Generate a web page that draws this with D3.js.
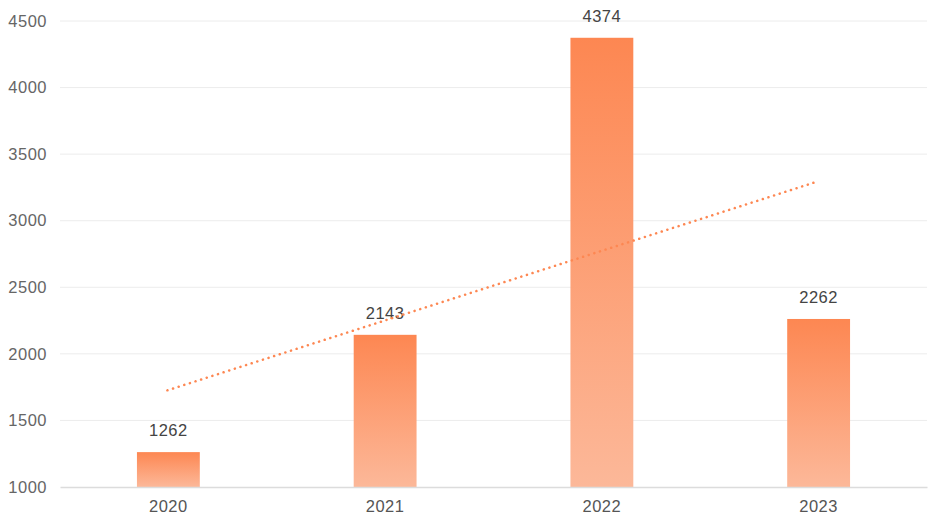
<!DOCTYPE html>
<html><head><meta charset="utf-8">
<script src="https://cdn.jsdelivr.net/npm/d3@7"></script>
<style>
body{margin:0;background:#fff;}
svg{display:block;font-family:"Liberation Sans",Arial,sans-serif;}
</style></head>
<body><svg id="chart" width="943" height="530"></svg>
<script>
const categories = ["2020", "2021", "2022", "2023"];
const values = [1262, 2143, 4374, 2262];
const yTicks = [1000, 1500, 2000, 2500, 3000, 3500, 4000, 4500];
const trendValues = [1726, 3295]; // trend line at first and last category

const svg = d3.select("#chart");
const margin = {left: 60, right: 16, top: 21, bottom: 43};
const W = 943, H = 530;
const FONT = "Liberation Sans, Arial, sans-serif";

const x = d3.scaleBand().domain(categories).range([margin.left, W - margin.right]).paddingInner(0.71).paddingOuter(0.355);
const y = d3.scaleLinear().domain([1000, 4500]).range([H - margin.bottom, margin.top]);

const defs = svg.append("defs");
const grad = defs.append("linearGradient").attr("id", "barGrad").attr("x1", 0).attr("y1", 0).attr("x2", 0).attr("y2", 1);
grad.append("stop").attr("offset", "0%").attr("stop-color", "#fd8752");
grad.append("stop").attr("offset", "100%").attr("stop-color", "#fcb899");

// grid
svg.append("g").selectAll("line").data(yTicks.slice(1)).join("line")
  .attr("x1", margin.left).attr("x2", W - margin.right)
  .attr("y1", d => y(d)).attr("y2", d => y(d))
  .attr("stroke", "#ececec").attr("stroke-width", 1);

// y axis labels
const yAxis = d3.axisLeft(y).tickValues(yTicks).tickFormat(d3.format("d")).tickSize(0).tickPadding(13);
const gy = svg.append("g").attr("transform", `translate(${margin.left},0)`).call(yAxis);
gy.select(".domain").remove();
gy.selectAll("text").attr("fill", "#666").attr("font-size", 16.5).attr("letter-spacing", 0.5).attr("font-family", FONT);

// bars
svg.append("g").selectAll("rect").data(values).join("rect")
  .attr("x", (d, i) => x(categories[i]))
  .attr("width", x.bandwidth())
  .attr("y", d => y(d))
  .attr("height", d => y(1000) - y(d))
  .attr("fill", "url(#barGrad)");

// x axis
const xAxis = d3.axisBottom(x).tickSize(0).tickPadding(13);
const gx = svg.append("g").attr("transform", `translate(0,${y(1000)})`).call(xAxis);
gx.select(".domain").attr("stroke", "#dcdcdc").attr("stroke-width", 1.5);
gx.selectAll("text").attr("fill", "#555").attr("font-size", 16.5).attr("letter-spacing", 0.5).attr("font-family", FONT);

// value labels
svg.append("g").selectAll("text").data(values).join("text")
  .attr("x", (d, i) => x(categories[i]) + x.bandwidth() / 2)
  .attr("y", d => y(d) - 16)
  .attr("text-anchor", "middle")
  .attr("fill", "#444").attr("font-size", 16.5).attr("letter-spacing", 0.5)
  .text(d => d);

// trend line
const c0 = x(categories[0]) + x.bandwidth() / 2;
const c1 = x(categories[categories.length - 1]) + x.bandwidth() / 2;
svg.append("line")
  .attr("x1", c0 - 1).attr("y1", y(trendValues[0]))
  .attr("x2", c1 - 1).attr("y2", y(trendValues[1]))
  .attr("stroke", "#fd8752").attr("stroke-width", 2.5)
  .attr("stroke-linecap", "round").attr("stroke-dasharray", "0.1 5.8");
</script></body></html>
